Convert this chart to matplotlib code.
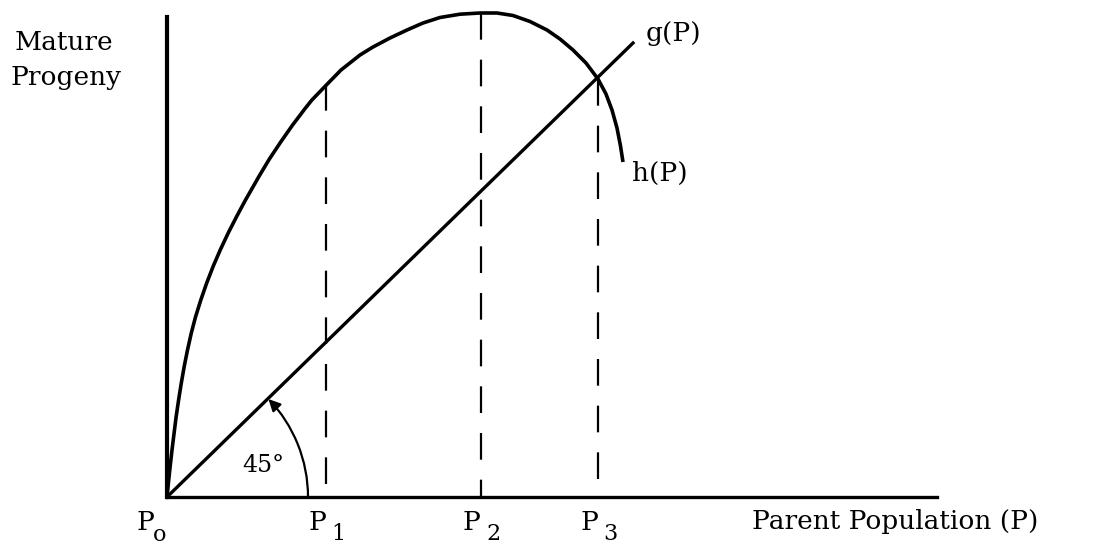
import matplotlib
matplotlib.use("Agg")
import matplotlib.pyplot as plt
from matplotlib.path import Path
from matplotlib.patches import FancyArrowPatch

# ---- data (units: arbitrary, 1 unit = 100 px) ----
# h(P): mature progeny curve
h_P = [0.000, 0.017, 0.033, 0.050, 0.071, 0.091, 0.116, 0.143, 0.173, 0.205,
       0.243, 0.285, 0.338, 0.397, 0.463, 0.532, 0.612, 0.699, 0.785, 0.922,
       1.024, 1.137, 1.256, 1.385, 1.449, 1.613, 1.740, 1.93, 2.06, 2.23,
       2.40, 2.56, 2.73, 2.93, 3.13, 3.30, 3.46, 3.63, 3.80, 3.93,
       4.06, 4.19, 4.31, 4.39, 4.45, 4.50, 4.535, 4.56]
h_vals = [0.00, 0.17, 0.32, 0.47, 0.64, 0.80, 0.97, 1.14, 1.31, 1.47,
          1.64, 1.80, 1.97, 2.14, 2.31, 2.47, 2.64, 2.81, 2.97, 3.21,
          3.38, 3.55, 3.72, 3.89, 3.97, 4.14, 4.27, 4.42, 4.50, 4.59,
          4.67, 4.74, 4.795, 4.828, 4.84, 4.84, 4.815, 4.755, 4.67, 4.58,
          4.47, 4.34, 4.18, 4.03, 3.87, 3.69, 3.51, 3.35]
# g(P): replacement line (45 degrees)
g_P = [0.0, 4.66]
g_vals = [0.0, 4.54]
# marked parent populations and the heights of their dashed guides
mark_P = [1.59, 3.14, 4.31]
mark_top = [4.13, 4.84, 4.18]
mark_sub = ["1", "2", "3"]
x_max, y_max = 7.70, 4.80
angle_deg = 44.0
arc_r = 1.41

FONT = "DejaVu Serif"
FS = 19
SUB = 16

fig = plt.figure(figsize=(11.08, 5.48), dpi=100)
ax = fig.add_axes([167 / 1108, 51 / 548, 770 / 1108, 480 / 548])
ax.set_xlim(0, x_max)
ax.set_ylim(0, y_max)
for s in ("top", "right"):
    ax.spines[s].set_visible(False)
ax.spines["left"].set_linewidth(3.0)
ax.spines["bottom"].set_linewidth(2.4)
ax.set_xticks([])
ax.set_yticks([])

ax.plot(h_P, h_vals, color="black", lw=2.6, clip_on=False,
        solid_capstyle="butt", solid_joinstyle="round")
ax.plot(g_P, g_vals, color="black", lw=2.4, clip_on=False)

# dashed guides drawn from the top down so a dash meets the curve
for p, top in zip(mark_P, mark_top):
    ax.plot([p, p], [top, 0], color="black", lw=1.6, dashes=(12, 9), clip_on=False)

# 45 degree arc with arrow
unit_arc = Path.arc(0, angle_deg)
arc_path = Path(unit_arc.vertices * arc_r, unit_arc.codes)
arrow = FancyArrowPatch(path=arc_path, transform=ax.transData,
                        arrowstyle="-|>,head_length=7,head_width=3.5",
                        color="black", lw=1.6, shrinkA=0, shrinkB=0, clip_on=False)
ax.add_patch(arrow)
ax.text(0.75, 0.32, "45°", fontsize=17, family=FONT, ha="left", va="center")

# labels
kw = dict(fontsize=FS, family=FONT, ha="left", va="center", clip_on=False)
ax.text(-1.52, 4.55, "Mature", **kw)
ax.text(-1.57, 4.20, "Progeny", **kw)
ax.text(4.79, 4.64, "g(P)", **kw)
ax.text(4.65, 3.24, "h(P)", **kw)
ax.text(5.85, -0.25, "Parent Population (P)", **kw)

# P labels with subscripts
skw = dict(fontsize=SUB, family=FONT, ha="left", va="center", clip_on=False)
ax.text(-0.30, -0.25, "P", **kw)
ax.text(-0.14, -0.38, "o", **skw)
for p, sub in zip(mark_P, mark_sub):
    ax.text(p - 0.18, -0.25, "P", **kw)
    ax.text(p + 0.05, -0.37, sub, **skw)

fig.savefig("out.png", dpi=100)
